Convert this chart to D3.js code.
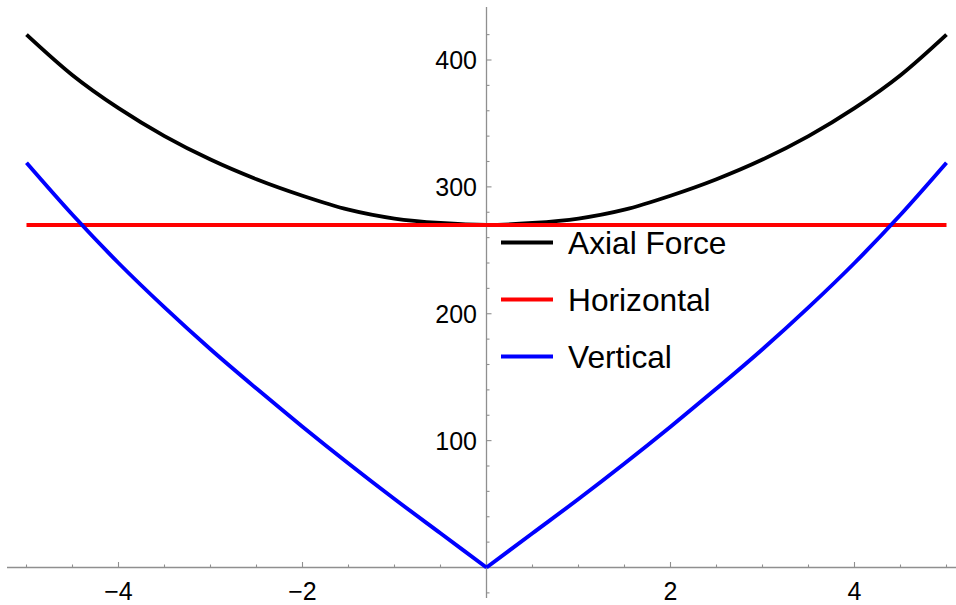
<!DOCTYPE html>
<html>
<head>
<meta charset="utf-8">
<script src="https://cdn.jsdelivr.net/npm/d3@7"></script>
<style>
  html, body { margin: 0; padding: 0; background: #fff; }
  svg { display: block; font-family: "Liberation Sans", Arial, sans-serif; }
</style>
</head>
<body>
<svg id="chart" width="956" height="605"></svg>
<script>
// Position along the span (m) and the force components at each station
const positions = [-5, -4.5, -4, -3.5, -3, -2.5, -2, -1.5, -1, -0.5, 0,
                   0.5, 1, 1.5, 2, 2.5, 3, 3.5, 4, 4.5, 5];
const axialForce = [420, 388, 362, 340, 321.5, 306, 293, 282, 275, 271.5, 270,
                    271.5, 275, 282, 293, 306, 321.5, 340, 362, 388, 420];
const horizontalForce = [270, 270, 270, 270, 270, 270, 270, 270, 270, 270, 270,
                         270, 270, 270, 270, 270, 270, 270, 270, 270, 270];
const verticalForce = [319, 278, 240, 205, 172, 141, 111, 82, 54, 27, 0,
                       27, 54, 82, 111, 141, 172, 205, 240, 278, 319];

const seriesNames = ["Axial Force", "Horizontal", "Vertical"];
const seriesColors = ["#000000", "#ff0000", "#0000ff"];

const xMajorTicks = [-4, -2, 2, 4];
const yMajorTicks = [100, 200, 300, 400];

const svg = d3.select("#chart");

const x = d3.scaleLinear().domain([-5, 5]).range([26.5, 946.5]);
const y = d3.scaleLinear().domain([0, 400]).range([567.5, 60]);

const axisColor = "#8f8f8f";
const g = svg.append("g");

// Axes through the origin
g.append("line")
  .attr("x1", 7).attr("x2", 956)
  .attr("y1", y(0)).attr("y2", y(0))
  .attr("stroke", axisColor).attr("stroke-width", 1.3);
g.append("line")
  .attr("x1", x(0)).attr("x2", x(0))
  .attr("y1", 7).attr("y2", 598)
  .attr("stroke", axisColor).attr("stroke-width", 1.3);

// x ticks: minor every 0.5, major every 2
const xMinor = d3.range(-10, 11).map(i => i / 2).filter(v => v !== 0);
g.selectAll(".xtick").data(xMinor).enter().append("line")
  .attr("x1", d => x(d)).attr("x2", d => x(d))
  .attr("y1", y(0))
  .attr("y2", d => y(0) - (xMajorTicks.includes(d) ? 5.5 : 3))
  .attr("stroke", axisColor).attr("stroke-width", 1.1);

// y ticks: minor every 20, major every 100
const yMinor = d3.range(-1, 22).map(i => i * 20).filter(v => v !== 0);
g.selectAll(".ytick").data(yMinor).enter().append("line")
  .attr("y1", d => y(d)).attr("y2", d => y(d))
  .attr("x1", x(0))
  .attr("x2", d => x(0) + (yMajorTicks.includes(d) ? 5 : 3))
  .attr("stroke", axisColor).attr("stroke-width", 1.1);

// Tick labels
g.selectAll(".xlabel").data(xMajorTicks).enter().append("text")
  .attr("x", d => x(d))
  .attr("y", 600)
  .attr("text-anchor", "middle")
  .attr("font-size", 25)
  .attr("fill", "#000")
  .text(d => d < 0 ? "\u2212" + Math.abs(d) : String(d));

g.selectAll(".ylabel").data(yMajorTicks).enter().append("text")
  .attr("x", 477)
  .attr("y", d => y(d))
  .attr("dy", "0.36em")
  .attr("text-anchor", "end")
  .attr("font-size", 25)
  .attr("fill", "#000")
  .text(d => String(d));

// Curves
const line = d3.line()
  .x(d => x(d[0]))
  .y(d => y(d[1]))
  .curve(d3.curveMonotoneX);

const pairs = vals => positions.map((p, i) => [p, vals[i]]);

function drawSeries(vals, color, splitAtZero) {
  const pts = pairs(vals);
  const parts = splitAtZero
    ? [pts.filter(d => d[0] <= 0), pts.filter(d => d[0] >= 0)]
    : [pts];
  parts.forEach(part => {
    svg.append("path")
      .attr("d", line(part))
      .attr("fill", "none")
      .attr("stroke", color)
      .attr("stroke-width", 3.9)
      .attr("stroke-linejoin", "round");
  });
}

drawSeries(axialForce, seriesColors[0], false);
drawSeries(horizontalForce, seriesColors[1], false);
drawSeries(verticalForce, seriesColors[2], true);

// Legend
const legend = svg.append("g");
const legendY = [242.5, 299.5, 356.5];
seriesNames.forEach((name, i) => {
  legend.append("line")
    .attr("x1", 501).attr("x2", 553)
    .attr("y1", legendY[i]).attr("y2", legendY[i])
    .attr("stroke", seriesColors[i]).attr("stroke-width", 3.9);
  legend.append("text")
    .attr("x", 568)
    .attr("y", legendY[i])
    .attr("dy", "0.36em")
    .attr("font-size", 31.7)
    .attr("fill", "#000")
    .text(name);
});
</script>
</body>
</html>
